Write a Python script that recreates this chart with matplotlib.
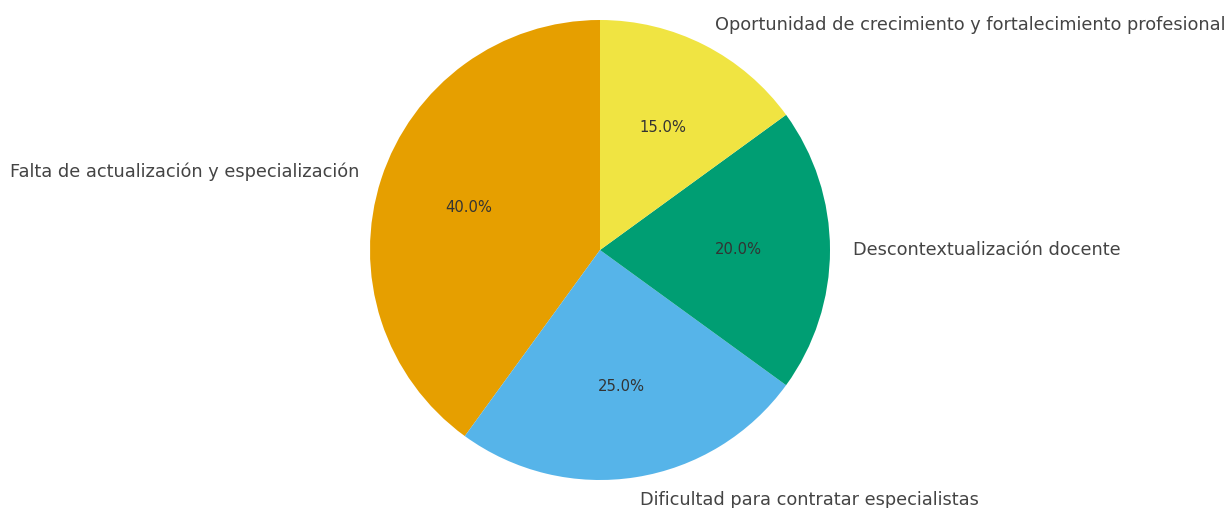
import matplotlib
matplotlib.use('Agg')
import matplotlib.pyplot as plt

plt.rcParams['font.family'] = ['DejaVu Sans']

# Datos del grafico
categorias = [
    'Falta de actualización y especialización',
    'Dificultad para contratar especialistas',
    'Descontextualización docente',
    'Oportunidad de crecimiento y fortalecimiento profesional',
]
porcentajes = [40, 25, 20, 15]
colores = ['#E69F00', '#56B4E9', '#009E73', '#F0E442']

# Creamos la figura
fig = plt.figure(figsize=(12.31, 5.08), dpi=100)
ax = fig.add_axes([(600 - 253) / 1231, (258 - 253) / 508, 506 / 1231, 506 / 508])

# Grafico de torta
wedges, texts, autotexts = ax.pie(
    porcentajes,
    labels=categorias,
    colors=colores,
    autopct='%1.1f%%',
    startangle=90,
    textprops={'color': '#444444', 'fontsize': 12.8},
)
# Texto de los porcentajes
for t in autotexts:
    t.set_fontsize(10.6)
    t.set_color('#333333')

ax.set_xlim(-1.1, 1.1)
ax.set_ylim(-1.1, 1.1)
ax.set_aspect('equal')

# Guardamos la imagen
fig.savefig('out.png', dpi=100)
